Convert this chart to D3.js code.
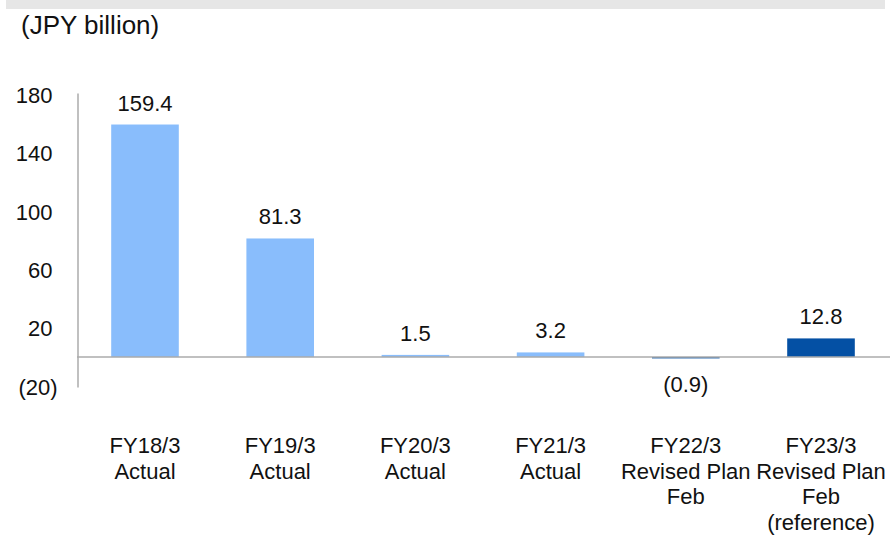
<!DOCTYPE html>
<html>
<head>
<meta charset="utf-8">
<script src="https://cdn.jsdelivr.net/npm/d3@7"></script>
<style>
  html, body { margin: 0; padding: 0; background: #fff; }
  svg { display: block; }
  text { font-family: "Liberation Sans", Arial, sans-serif; fill: #111; }
</style>
</head>
<body>
<svg id="chart" width="891" height="535"></svg>
<script>
// Fiscal-year labels (one entry per line of the axis label)
const categories = [
  ["FY18/3", "Actual"],
  ["FY19/3", "Actual"],
  ["FY20/3", "Actual"],
  ["FY21/3", "Actual"],
  ["FY22/3", "Revised Plan", "Feb"],
  ["FY23/3", "Revised Plan", "Feb", "(reference)"]
];
// JPY billion
const values = [159.4, 81.3, 1.5, 3.2, -0.9, 12.8];
// Actual results vs. plan figures
const kinds = ["actual", "actual", "actual", "actual", "plan", "plan"];
const tickValues = [-20, 20, 60, 100, 140, 180];
const unitLabel = "(JPY billion)";

const colorByKind = { actual: "#89bdfc", plan: "#0450a4" };
const fmt = v => v < 0 ? `(${Math.abs(v).toFixed(1)})` : v.toFixed(1);
const tickFmt = v => v < 0 ? `(${Math.abs(v)})` : `${v}`;

const svg = d3.select("#chart");

// header strip
svg.append("rect")
  .attr("x", 6).attr("y", 0).attr("width", 879).attr("height", 9)
  .attr("fill", "#e6e6e6");

svg.append("text")
  .attr("x", 21).attr("y", 34)
  .attr("font-size", 26)
  .text(unitLabel);

const keys = categories.map(c => c.join(" "));

const x = d3.scaleBand()
  .domain(keys)
  .range([77.4, 888.6])
  .paddingInner(0.5)
  .paddingOuter(0.25);

const y = d3.scaleLinear()
  .domain([-20.5, 181])
  .range([387, 93]);

// vertical axis line, no tick marks
const yAxis = d3.axisLeft(y)
  .tickValues(tickValues)
  .tickSize(0)
  .tickPadding(20)
  .tickFormat(tickFmt);

const gy = svg.append("g")
  .attr("transform", "translate(77.5,0)")
  .call(yAxis);
gy.select(".domain").attr("stroke", "#ababab").attr("stroke-width", 1.5);
gy.selectAll(".tick text")
  .attr("font-size", 22)
  .attr("font-family", "Liberation Sans, Arial, sans-serif")
  .attr("fill", "#111")
  .attr("dy", "0.36em")
  // positive figures leave room for the closing parenthesis
  .attr("dx", d => d < 0 ? 0 : -5);

// bars
svg.append("g").selectAll("rect")
  .data(values)
  .join("rect")
  .attr("x", (d, i) => x(keys[i]))
  .attr("width", x.bandwidth())
  .attr("y", d => y(Math.max(0, d)))
  .attr("height", d => Math.abs(y(d) - y(0)))
  .attr("fill", (d, i) => colorByKind[kinds[i]]);

// zero baseline
svg.append("line")
  .attr("x1", 77).attr("x2", 890)
  .attr("y1", y(0)).attr("y2", y(0))
  .attr("stroke", "#ababab").attr("stroke-width", 1.5);

// value labels
svg.append("g").selectAll("text")
  .data(values)
  .join("text")
  .attr("x", (d, i) => x(keys[i]) + x.bandwidth() / 2)
  .attr("y", d => d >= 0 ? y(d) - 14 : y(d) + 34)
  .attr("text-anchor", "middle")
  .attr("font-size", 22)
  .text(fmt);

// category labels
const cat = svg.append("g").selectAll("text")
  .data(categories)
  .join("text")
  .attr("x", (d, i) => x(keys[i]) + x.bandwidth() / 2)
  .attr("y", 453)
  .attr("text-anchor", "middle")
  .attr("font-size", 22);
cat.selectAll("tspan")
  .data(d => d)
  .join("tspan")
  .attr("x", function () { return d3.select(this.parentNode).attr("x"); })
  .attr("dy", (d, j) => j === 0 ? 0 : 25.5)
  .text(d => d);
</script>
</body>
</html>
